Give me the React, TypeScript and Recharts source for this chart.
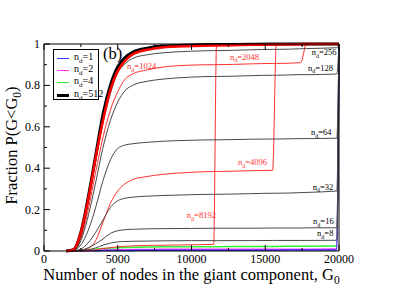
import React from 'react';
import { LineChart, Line, XAxis, YAxis, Legend, ReferenceDot } from 'recharts';

// Giant-component size grid (G0)
const G0 = [1500, 2000, 2500, 3000, 3500, 4000, 4500, 5000, 5500, 6000, 7000, 8000, 10000, 11500, 11700, 14000, 15500, 15750, 17400, 17800, 19850, 20000];

// Fraction P(G<G0) per n_d
const nd1 = [0, 0, 0.0005, 0.001, 0.0015, 0.002, 0.0025, 0.003, 0.003, 0.003, 0.0035, 0.0035, 0.004, 0.004, 0.004, 0.004, 0.004, 0.004, 0.0045, 0.0045, 0.005, 1];
const nd2 = [0, 0, 0.001, 0.002, 0.003, 0.004, 0.005, 0.006, 0.006, 0.007, 0.007, 0.008, 0.008, 0.008, 0.008, 0.009, 0.009, 0.009, 0.009, 0.009, 0.01, 1];
const nd4 = [0, 0, 0.002, 0.005, 0.009, 0.012, 0.014, 0.016, 0.017, 0.018, 0.019, 0.02, 0.021, 0.021, 0.021, 0.022, 0.022, 0.022, 0.023, 0.023, 0.024, 1];
const nd8 = [0, 0, 0.002, 0.006, 0.015, 0.028, 0.038, 0.044, 0.046, 0.047, 0.048, 0.049, 0.05, 0.05, 0.05, 0.05, 0.051, 0.051, 0.051, 0.051, 0.052, 1];
const nd16 = [0, 0, 0.004, 0.016, 0.035, 0.058, 0.085, 0.098, 0.103, 0.105, 0.107, 0.108, 0.109, 0.11, 0.11, 0.11, 0.111, 0.111, 0.111, 0.112, 0.112, 1];
const nd32 = [0, 0.001, 0.01, 0.04, 0.09, 0.15, 0.21, 0.243, 0.255, 0.26, 0.265, 0.268, 0.272, 0.274, 0.274, 0.277, 0.279, 0.279, 0.282, 0.283, 0.29, 1];
const nd64 = [0, 0.002, 0.03, 0.1, 0.21, 0.34, 0.44, 0.495, 0.512, 0.518, 0.525, 0.53, 0.535, 0.537, 0.537, 0.54, 0.541, 0.541, 0.543, 0.543, 0.545, 1];
const nd128 = [0, 0.003, 0.05, 0.17, 0.33, 0.5, 0.63, 0.72, 0.775, 0.8, 0.82, 0.83, 0.84, 0.843, 0.843, 0.847, 0.849, 0.849, 0.852, 0.852, 0.855, 1];
const nd256 = [0, 0.005, 0.08, 0.24, 0.43, 0.62, 0.76, 0.86, 0.905, 0.93, 0.948, 0.957, 0.965, 0.968, 0.968, 0.972, 0.974, 0.974, 0.977, 0.978, 0.982, 1];
const nd512 = [0, 0.007, 0.09, 0.26, 0.46, 0.66, 0.8, 0.89, 0.935, 0.96, 0.98, 0.99, 0.995, 0.997, 0.997, 0.999, 1, 1, 1, 1, 1, 1];
const nd1024 = [0, 0.006, 0.09, 0.25, 0.45, 0.63, 0.78, 0.87, 0.92, 0.95, 0.972, 0.983, 0.99, 0.993, 0.993, 0.996, 0.998, 0.998, 0.999, 1, 1, 1];
const nd2048 = [0, 0.004, 0.06, 0.2, 0.38, 0.55, 0.68, 0.77, 0.83, 0.855, 0.875, 0.888, 0.898, 0.9, 0.9, 0.904, 0.906, 0.906, 0.91, 1, 1, 1];
const nd4096 = [0, 0, 0.003, 0.012, 0.05, 0.14, 0.23, 0.29, 0.325, 0.345, 0.36, 0.37, 0.38, 0.384, 0.384, 0.388, 0.39, 1, 1, 1, 1, 1];
const nd8192 = [0, 0, 0, 0.002, 0.005, 0.012, 0.016, 0.02, 0.023, 0.025, 0.027, 0.028, 0.03, 0.032, 1, 1, 1, 1, 1, 1, 1, 1];

// Ticks
const xTicks = [0, 2500, 5000, 7500, 10000, 12500, 15000, 17500, 20000];
const xTickLabels = ['0', '', '5000', '', '10000', '', '15000', '', '20000'];
const yTicks = [0, 0.1, 0.2, 0.3, 0.4, 0.5, 0.6, 0.7, 0.8, 0.9, 1];
const yTickLabels = ['0', '', '0.2', '', '0.4', '', '0.6', '', '0.8', '', '1'];

// Curve annotations (n_d value, anchor G0, anchor P)
const annNames = ['1024', '2048', '256', '128', '64', '4096', '32', '8192', '16', '8'];
const annG = [5630, 12610, 18150, 17900, 18100, 13150, 18220, 9680, 18240, 18510];
const annP = [0.879, 0.923, 0.947, 0.870, 0.560, 0.415, 0.297, 0.159, 0.130, 0.072];

const legendNames = ['1', '2', '4', '512'];

const seriesValues: Record<string, number[]> = {
  '1': nd1, '2': nd2, '4': nd4, '8': nd8, '16': nd16, '32': nd32, '64': nd64, '128': nd128,
  '256': nd256, '512': nd512, '1024': nd1024, '2048': nd2048, '4096': nd4096, '8192': nd8192,
};

const rows = G0.map((g, i) => {
  const r: Record<string, number> = { G: g };
  Object.keys(seriesValues).forEach((k) => {
    r['nd' + k] = seriesValues[k][i];
  });
  return r;
});

// Styles (draw order: thin first, thick last)
const styles: { n: string; color: string; width: number }[] = [
  { n: '4', color: '#33ee33', width: 1.5 },
  { n: '2', color: '#ff33ff', width: 1.5 },
  { n: '1', color: '#3333ff', width: 1.5 },
  { n: '8192', color: '#ff3030', width: 1 },
  { n: '4096', color: '#ff3030', width: 1 },
  { n: '2048', color: '#ff3030', width: 1 },
  { n: '8', color: '#484848', width: 1 },
  { n: '16', color: '#484848', width: 1 },
  { n: '32', color: '#484848', width: 1 },
  { n: '64', color: '#484848', width: 1 },
  { n: '128', color: '#484848', width: 1 },
  { n: '256', color: '#484848', width: 1 },
  { n: '512', color: '#000000', width: 3 },
  { n: '1024', color: '#ff0000', width: 2.5 },
];

const annColor: Record<string, string> = {
  '1024': '#ff3030', '2048': '#ff3030', '4096': '#ff3030', '8192': '#ff3030',
};

const FONT = '"Liberation Serif", "Times New Roman", serif';

const NdText = ({ x, y, n, color, size }: { x: number; y: number; n: string; color: string; size: number }) => (
  <text x={x} y={y} fill={color} fontSize={size} fontFamily={FONT}>
    n
    <tspan fontSize={size * 0.72} dy={size * 0.3}>d</tspan>
    <tspan dy={-size * 0.3}>={n}</tspan>
  </text>
);

const BottomTick = (props: any) => {
  const { x, y, payload } = props;
  const idx = xTicks.indexOf(payload.value);
  const lab = xTickLabels[idx] || '';
  const major = lab !== '';
  return (
    <g>
      <line x1={x} x2={x} y1={y} y2={y - (major ? 6 : 3)} stroke="#000" strokeWidth={1} />
      {major && (
        <text x={x} y={y + 11.5} textAnchor="middle" fontSize={12} fontFamily={FONT} fill="#000">
          {lab}
        </text>
      )}
    </g>
  );
};

const TopTick = (props: any) => {
  const { x, y, payload } = props;
  const idx = xTicks.indexOf(payload.value);
  const major = (xTickLabels[idx] || '') !== '';
  return <line x1={x} x2={x} y1={y} y2={y + (major ? 6 : 3)} stroke="#000" strokeWidth={1} />;
};

const LeftTick = (props: any) => {
  const { x, y, payload } = props;
  const idx = yTicks.indexOf(payload.value);
  const lab = yTickLabels[idx] || '';
  const major = lab !== '';
  return (
    <g>
      <line x1={x} x2={x + (major ? 6 : 3)} y1={y} y2={y} stroke="#000" strokeWidth={1} />
      {major && (
        <text x={x - 4} y={y + 4} textAnchor="end" fontSize={12} fontFamily={FONT} fill="#000">
          {lab}
        </text>
      )}
    </g>
  );
};

const RightTick = (props: any) => {
  const { x, y, payload } = props;
  const idx = yTicks.indexOf(payload.value);
  const major = (yTickLabels[idx] || '') !== '';
  return <line x1={x} x2={x - (major ? 6 : 3)} y1={y} y2={y} stroke="#000" strokeWidth={1} />;
};

const XTitle = (props: any) => {
  const vb = props.viewBox || { x: 44, y: 251, width: 295 };
  const cx = vb.x + vb.width / 2;
  return (
    <text x={cx} y={280} textAnchor="middle" fontSize={16.5} fontFamily={FONT} fill="#000">
      Number of nodes in the giant component, G
      <tspan fontSize={11.5} dy={4}>0</tspan>
    </text>
  );
};

const YTitle = (props: any) => {
  const vb = props.viewBox || { x: 44, y: 44, height: 207 };
  const cx = 17;
  const cy = vb.y + vb.height / 2 - 2;
  return (
    <text
      x={cx}
      y={cy}
      transform={`rotate(-90 ${cx} ${cy})`}
      textAnchor="middle"
      fontSize={16.5}
      fontFamily={FONT}
      fill="#000"
    >
      Fraction P(G&lt;G
      <tspan fontSize={11.5} dy={4}>0</tspan>
      <tspan dy={-4}>)</tspan>
    </text>
  );
};

const LegendBox = (props: any) => {
  const payload: any[] = props.payload || [];
  const items = legendNames
    .map((n) => payload.find((p) => p.dataKey === 'nd' + n))
    .filter(Boolean);
  return (
    <div
      style={{
        position: 'relative',
        width: 46,
        height: 51,
        border: '1px solid #000',
        boxSizing: 'border-box',
        background: '#fff',
        fontFamily: FONT,
        fontSize: 10,
        color: '#000',
      }}
    >
      {items.map((it: any, i: number) => (
        <div key={i} style={{ position: 'absolute', left: 0, top: [8, 20, 32, 45][i] - 6, height: 12, width: 46 }}>
          <div
            style={{
              position: 'absolute',
              left: 3,
              top: 6 - (it.dataKey === 'nd512' ? 1.5 : 0.5),
              width: 12,
              height: it.dataKey === 'nd512' ? 3 : 1,
              background: it.color,
            }}
          />
          <div style={{ position: 'absolute', left: 20, top: -1, lineHeight: '12px', whiteSpace: 'nowrap' }}>
            n<span style={{ fontSize: 7, position: 'relative', top: 3 }}>d</span>={legendNames[i]}
          </div>
        </div>
      ))}
    </div>
  );
};

export default function App() {
  return (
    <div style={{ position: 'absolute', left: 0, top: 0, width: 407, height: 288, background: '#fff' }}>
      <LineChart width={407} height={288} data={rows} margin={{ top: 43, right: 67, bottom: 36, left: 43 }}>
        <XAxis
          xAxisId="x"
          dataKey="G"
          type="number"
          domain={[0, 20000]}
          ticks={xTicks}
          interval={0}
          height={1}
          tickSize={0}
          tickMargin={0}
          tickLine={false}
          axisLine={{ stroke: '#000', strokeWidth: 1 }}
          tick={<BottomTick />}
          label={<XTitle />}
        />
        <XAxis
          xAxisId="top"
          orientation="top"
          dataKey="G"
          type="number"
          domain={[0, 20000]}
          ticks={xTicks}
          interval={0}
          height={1}
          tickSize={0}
          tickMargin={0}
          tickLine={false}
          axisLine={{ stroke: '#000', strokeWidth: 1 }}
          tick={<TopTick />}
        />
        <YAxis
          yAxisId="y"
          type="number"
          domain={[0, 1]}
          ticks={yTicks}
          interval={0}
          width={1}
          tickSize={0}
          tickMargin={0}
          tickLine={false}
          axisLine={{ stroke: '#000', strokeWidth: 1 }}
          tick={<LeftTick />}
          label={<YTitle />}
        />
        <YAxis
          yAxisId="right"
          orientation="right"
          type="number"
          domain={[0, 1]}
          ticks={yTicks}
          interval={0}
          width={1}
          tickSize={0}
          tickMargin={0}
          tickLine={false}
          axisLine={{ stroke: '#000', strokeWidth: 1 }}
          tick={<RightTick />}
        />
        {styles.map((s) => (
          <Line
            key={s.n}
            xAxisId="x"
            yAxisId="y"
            type="monotone"
            dataKey={'nd' + s.n}
            name={'n_d=' + s.n}
            stroke={s.color}
            strokeWidth={s.width}
            dot={false}
            activeDot={false}
            isAnimationActive={false}
          />
        ))}
        {annNames.map((n, i) => (
          <ReferenceDot
            key={'a' + n}
            xAxisId="x"
            yAxisId="y"
            x={annG[i]}
            y={annP[i]}
            r={0}
            fill="none"
            stroke="none"
            label={(p: any) => (
              <NdText
                x={p.viewBox ? p.viewBox.x : 0}
                y={p.viewBox ? p.viewBox.y : 0}
                n={n}
                color={annColor[n] || '#000'}
                size={8.5}
              />
            )}
          />
        ))}
        <ReferenceDot
          xAxisId="x"
          yAxisId="y"
          x={4000}
          y={0.928}
          r={0}
          fill="none"
          stroke="none"
          label={(p: any) => (
            <text
              x={p.viewBox ? p.viewBox.x : 0}
              y={p.viewBox ? p.viewBox.y : 0}
              fontSize={16.5}
              fontFamily={FONT}
              fill="#000"
            >
              (b)
            </text>
          )}
        />
        <Legend
          layout="vertical"
          align="center"
          verticalAlign="middle"
          content={<LegendBox />}
          wrapperStyle={{ position: 'absolute', left: 53, top: 49, width: 46, height: 51, margin: 0, padding: 0 }}
        />
      </LineChart>
    </div>
  );
}
